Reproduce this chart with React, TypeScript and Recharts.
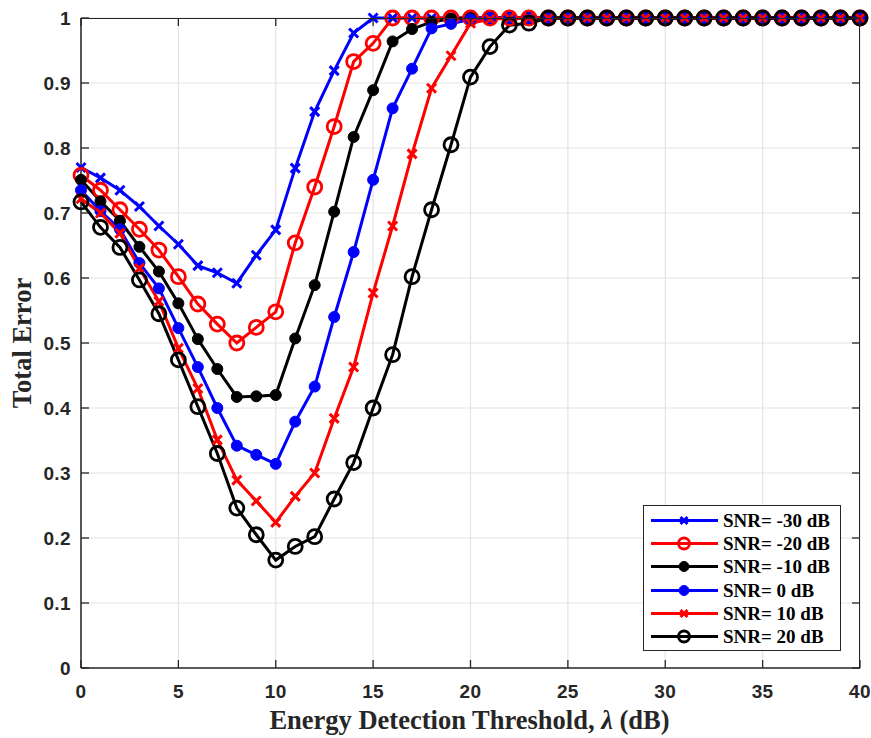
import { CartesianGrid, Legend, Line, LineChart, XAxis, YAxis } from "recharts";

const threshold = [
  0, 1, 2, 3, 4, 5, 6, 7, 8, 9, 10, 11, 12, 13, 14, 15, 16, 17, 18, 19, 20,
  21, 22, 23, 24, 25, 26, 27, 28, 29, 30, 31, 32, 33, 34, 35, 36, 37, 38, 39, 40,
];

const snrM30 = [
  0.77, 0.754, 0.735, 0.71, 0.68, 0.652, 0.619, 0.608, 0.592, 0.635, 0.674,
  0.769, 0.856, 0.919, 0.977, 1, 1, 1, 1, 1, 1, 1, 1, 1, 1, 1, 1, 1, 1, 1, 1,
  1, 1, 1, 1, 1, 1, 1, 1, 1, 1,
];
const snrM20 = [
  0.758, 0.735, 0.705, 0.675, 0.643, 0.602, 0.56, 0.529, 0.5, 0.524, 0.548,
  0.654, 0.74, 0.833, 0.933, 0.961, 1, 1, 1, 1, 1, 1, 1, 1, 1, 1, 1, 1, 1, 1,
  1, 1, 1, 1, 1, 1, 1, 1, 1, 1, 1,
];
const snrM10 = [
  0.751, 0.718, 0.688, 0.648, 0.61, 0.561, 0.506, 0.46, 0.417, 0.418, 0.42,
  0.507, 0.589, 0.702, 0.817, 0.889, 0.964, 0.983, 0.994, 0.999, 1, 1, 1, 1, 1,
  1, 1, 1, 1, 1, 1, 1, 1, 1, 1, 1, 1, 1, 1, 1, 1,
];
const snr0 = [
  0.735, 0.703, 0.675, 0.623, 0.584, 0.523, 0.463, 0.4, 0.342, 0.328, 0.314,
  0.379, 0.433, 0.54, 0.64, 0.751, 0.861, 0.922, 0.984, 0.991, 0.998, 1, 1, 1,
  1, 1, 1, 1, 1, 1, 1, 1, 1, 1, 1, 1, 1, 1, 1, 1, 1,
];
const snr10 = [
  0.722, 0.7, 0.669, 0.615, 0.564, 0.492, 0.43, 0.351, 0.289, 0.257, 0.224,
  0.264, 0.3, 0.384, 0.463, 0.577, 0.68, 0.791, 0.892, 0.942, 0.992, 0.998, 1,
  1, 1, 1, 1, 1, 1, 1, 1, 1, 1, 1, 1, 1, 1, 1, 1, 1, 1,
];
const snr20 = [
  0.717, 0.678, 0.647, 0.597, 0.545, 0.474, 0.402, 0.33, 0.246, 0.205, 0.166,
  0.187, 0.202, 0.26, 0.316, 0.4, 0.482, 0.602, 0.705, 0.805, 0.909, 0.956,
  0.989, 0.992, 1, 1, 1, 1, 1, 1, 1, 1, 1, 1, 1, 1, 1, 1, 1, 1, 1,
];

const xTicks = [0, 5, 10, 15, 20, 25, 30, 35, 40];
const yTicks = [0, 0.1, 0.2, 0.3, 0.4, 0.5, 0.6, 0.7, 0.8, 0.9, 1];

const series = [
  { key: "m30", name: "SNR= -30 dB", values: snrM30, color: "#0000ff", marker: "x" },
  { key: "m20", name: "SNR= -20 dB", values: snrM20, color: "#ff0000", marker: "o" },
  { key: "m10", name: "SNR= -10 dB", values: snrM10, color: "#000000", marker: "dot" },
  { key: "p0", name: "SNR= 0 dB", values: snr0, color: "#0000ff", marker: "dot" },
  { key: "p10", name: "SNR= 10 dB", values: snr10, color: "#ff0000", marker: "x" },
  { key: "p20", name: "SNR= 20 dB", values: snr20, color: "#000000", marker: "o" },
];

const data = threshold.map((t, i) => {
  const row: Record<string, number> = { t };
  series.forEach((s) => (row[s.key] = s.values[i]));
  return row;
});

const W = 871;
const H = 738;
const M = { top: 18, right: 11, left: 0, bottom: 0 };
const Y_W = 81;
const X_H = 70;
const PLOT_TOP = M.top;
const PLOT_BOTTOM = H - X_H;
const PLOT_LEFT = Y_W;
const PLOT_RIGHT = W - M.right;
const AXIS = "#262626";
const TICK_FONT = "'Liberation Sans', Arial, sans-serif";
const TITLE_FONT = "'Liberation Serif', 'Times New Roman', serif";

function Marker({
  cx,
  cy,
  color,
  kind,
  small,
}: {
  cx: number;
  cy: number;
  color: string;
  kind: string;
  small?: boolean;
}) {
  if (cx == null || cy == null) return null;
  if (kind === "x") {
    const d = small ? 3.5 : 4.5;
    return (
      <g stroke={color} strokeWidth={3}>
        <line x1={cx - d} y1={cy - d} x2={cx + d} y2={cy + d} />
        <line x1={cx - d} y1={cy + d} x2={cx + d} y2={cy - d} />
      </g>
    );
  }
  if (kind === "o") {
    return (
      <circle cx={cx} cy={cy} r={small ? 5.5 : 7} fill="none" stroke={color} strokeWidth={2.8} />
    );
  }
  return <circle cx={cx} cy={cy} r={small ? 5 : 5.5} fill={color} stroke={color} strokeWidth={1} />;
}

function XTick(props: any) {
  const { x, payload } = props;
  return (
    <g>
      <line x1={x} x2={x} y1={PLOT_BOTTOM} y2={PLOT_BOTTOM - 8} stroke={AXIS} strokeWidth={1.3} />
      <line x1={x} x2={x} y1={PLOT_TOP} y2={PLOT_TOP + 8} stroke={AXIS} strokeWidth={1.3} />
      <text
        x={x}
        y={PLOT_BOTTOM + 30}
        textAnchor="middle"
        fontFamily={TICK_FONT}
        fontWeight="bold"
        fontSize={19}
        letterSpacing={0.4}
        fill="#262626"
      >
        {payload.value}
      </text>
    </g>
  );
}

function YTick(props: any) {
  const { y, payload } = props;
  return (
    <g>
      <line x1={PLOT_LEFT} x2={PLOT_LEFT + 8} y1={y} y2={y} stroke={AXIS} strokeWidth={1.3} />
      <line x1={PLOT_RIGHT} x2={PLOT_RIGHT - 8} y1={y} y2={y} stroke={AXIS} strokeWidth={1.3} />
      <text
        x={PLOT_LEFT - 10}
        y={y}
        dy="0.36em"
        textAnchor="end"
        fontFamily={TICK_FONT}
        fontWeight="bold"
        fontSize={19}
        letterSpacing={0.4}
        fill="#262626"
      >
        {payload.value}
      </text>
    </g>
  );
}

function LegendBox() {
  return (
    <div
      style={{
        width: 198,
        height: 146,
        border: "1px solid #262626",
        background: "#fff",
        paddingTop: 2.5,
        boxSizing: "border-box",
      }}
    >
      {series.map((s) => (
        <div key={s.key} style={{ display: "flex", alignItems: "center", height: 23.3 }}>
          <svg width={78} height={23}>
            <line x1={7} x2={74} y1={11.5} y2={11.5} stroke={s.color} strokeWidth={3} />
            <Marker cx={40} cy={11.5} color={s.color} kind={s.marker} small />
          </svg>
          <span
            style={{
              fontFamily: TITLE_FONT,
              fontWeight: "bold",
              fontSize: 19,
              color: "#000",
              marginLeft: 1,
              lineHeight: "23px",
              whiteSpace: "nowrap",
            }}
          >
            {s.name}
          </span>
        </div>
      ))}
    </div>
  );
}

export default function App() {
  return (
    <div style={{ position: "absolute", left: 0, top: 0, width: W, height: H, background: "#fff" }}>
      <LineChart width={W} height={H} data={data} margin={M}>
        <CartesianGrid stroke="#e3e3e3" strokeWidth={1.2} />
        <XAxis
          dataKey="t"
          type="number"
          domain={[0, 40]}
          ticks={xTicks}
          height={X_H}
          axisLine={{ stroke: AXIS, strokeWidth: 1.5 }}
          tickLine={false}
          tick={<XTick />}
          label={{
            content: (p: any) => {
              const vb = p.viewBox;
              return (
                <text
                  x={vb.x + vb.width / 2 - 1}
                  y={H - 9}
                  textAnchor="middle"
                  fontFamily={TITLE_FONT}
                  fontWeight="bold"
                  fontSize={26.5}
                  fill="#262626"
                >
                  Energy Detection Threshold, <tspan fontStyle="italic">λ</tspan> (dB)
                </text>
              );
            },
          }}
        />
        <YAxis
          type="number"
          domain={[0, 1]}
          ticks={yTicks}
          width={Y_W}
          axisLine={{ stroke: AXIS, strokeWidth: 1.5 }}
          tickLine={false}
          tick={<YTick />}
          label={{
            content: (p: any) => {
              const vb = p.viewBox;
              const cy = vb.y + vb.height / 2;
              return (
                <text
                  x={31}
                  y={cy}
                  transform={`rotate(-90 31 ${cy})`}
                  textAnchor="middle"
                  fontFamily={TITLE_FONT}
                  fontWeight="bold"
                  fontSize={26.5}
                  fill="#262626"
                >
                  Total Error
                </text>
              );
            },
          }}
        />
        {series.map((s) => (
          <Line
            key={s.key}
            dataKey={s.key}
            name={s.name}
            type="linear"
            stroke={s.color}
            strokeWidth={3}
            isAnimationActive={false}
            dot={(p: any) => (
              <Marker key={`${s.key}-${p.index}`} cx={p.cx} cy={p.cy} color={s.color} kind={s.marker} />
            )}
          />
        ))}
        <Legend
          layout="horizontal"
          verticalAlign="middle"
          align="center"
          content={() => <LegendBox />}
          wrapperStyle={{ left: 643, top: 505, width: 198, height: 146, bottom: "auto" }}
        />
      </LineChart>
      <div
        style={{
          position: "absolute",
          left: PLOT_LEFT,
          top: PLOT_TOP,
          width: PLOT_RIGHT - PLOT_LEFT,
          height: PLOT_BOTTOM - PLOT_TOP,
          borderTop: `1.5px solid ${AXIS}`,
          borderRight: `1.5px solid ${AXIS}`,
          boxSizing: "border-box",
          pointerEvents: "none",
        }}
      />
    </div>
  );
}
